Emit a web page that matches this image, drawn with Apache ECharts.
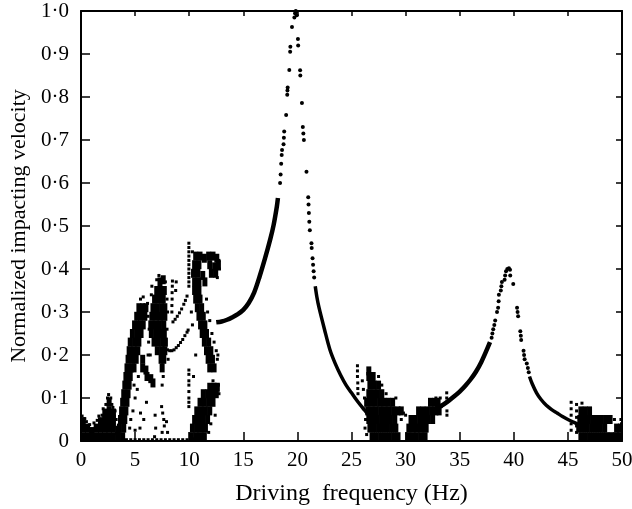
<!DOCTYPE html>
<html><head><meta charset="utf-8">
<script src="https://cdn.jsdelivr.net/npm/echarts@6/dist/echarts.min.js"></script>
<style>html,body{margin:0;padding:0;background:#fff}#c{width:632px;height:509px}</style>
</head><body><div id="c"></div>
<script>
// ---- axis ticks / labels ----
var xTicks = [0,5,10,15,20,25,30,35,40,45,50];
var yTickLabels = ['0','0·1','0·2','0·3','0·4','0·5','0·6','0·7','0·8','0·9','1·0'];
var xTitle = 'Driving  frequency (Hz)';
var yTitle = 'Normalized impacting velocity';

// ---- continuous resonance branches (Hz, normalized velocity) ----
var curve20Left = [[12.5,0.276],[13.0,0.278],[13.5,0.282],[14.0,0.288],[14.5,0.295],[15.0,0.305],[15.5,0.321],[16.0,0.345],[16.5,0.382],[17.0,0.424],[17.5,0.47],[17.8,0.502],[18.1,0.545],[18.2,0.565]];
var curve20Right = [[21.65,0.36],[21.8,0.335],[22.0,0.31],[22.5,0.26],[23.0,0.213],[23.5,0.18],[24.0,0.153],[24.5,0.13],[25.0,0.112],[25.5,0.094],[26.0,0.078],[26.5,0.063],[27.0,0.052]];
var curve40Left = [[32.8,0.076],[33.5,0.085],[34.0,0.094],[34.5,0.104],[35.0,0.115],[35.5,0.128],[36.0,0.143],[36.5,0.161],[37.0,0.184],[37.5,0.212],[37.8,0.23]];
var curve40Right = [[41.45,0.15],[41.7,0.133],[42.1,0.112],[42.5,0.097],[43.0,0.083],[43.5,0.073],[44.0,0.065],[44.5,0.057],[45.0,0.05],[45.5,0.044],[46.0,0.038]];

// ---- sparse points near the resonance peaks ----
var peak20Dots = [[18.4,0.6],[18.45,0.62],[18.5,0.645],[18.55,0.665],[18.58,0.677],[18.72,0.69],[18.75,0.705],[18.78,0.72],[18.96,0.758],[19.06,0.805],[19.08,0.815],[19.1,0.822],[19.25,0.863],[19.33,0.905],[19.35,0.917],[19.5,0.963],[19.72,0.985],[19.78,0.995],[19.85,1.0],[19.9,0.998],[19.95,0.99],
  [20.05,0.935],[20.07,0.92],[20.25,0.862],[20.27,0.85],[20.42,0.786],[20.5,0.73],[20.55,0.715],[20.6,0.7],[20.84,0.626],[21.0,0.567],[21.03,0.55],[21.06,0.53],[21.1,0.51],[21.15,0.49],[21.3,0.46],[21.32,0.449],[21.4,0.425],[21.45,0.41],[21.5,0.395],[21.55,0.38]];
var peak40Dots = [[37.95,0.24],[38.02,0.25],[38.1,0.26],[38.2,0.27],[38.28,0.28],[38.45,0.3],[38.55,0.31],[38.6,0.325],[38.62,0.34],[38.8,0.35],[38.85,0.36],[38.9,0.37],[39.15,0.375],[39.2,0.385],[39.28,0.395],[39.4,0.4],[39.55,0.402],[39.65,0.398],[39.67,0.385],
  [39.95,0.365],[40.3,0.31],[40.35,0.3],[40.4,0.29],[40.6,0.255],[40.65,0.245],[40.68,0.235],[40.9,0.21],[40.95,0.2],[41.0,0.19],[41.2,0.18],[41.3,0.17],[41.38,0.16]];

// ---- dense (chaotic) clouds ----
var lowBlob = [[0.2,0.01],[0.2,0.03],[0.2,0.045],[0.6,0.01],[0.6,0.03],[1.0,0.01],[1.0,0.022],[1.4,0.01],[1.4,0.03],[1.8,0.01],[1.8,0.03],[1.8,0.045],
  [2.2,0.01],[2.2,0.03],[2.2,0.05],[2.2,0.065],[2.6,0.01],[2.6,0.03],[2.6,0.05],[2.6,0.07],[2.6,0.09],[3.0,0.01],[3.0,0.03],[3.0,0.05],[3.0,0.065],[3.4,0.01],[3.4,0.025]];
var riseBlob = [[3.45,0.01],[3.85,0.01],[3.55,0.03],[3.95,0.03],[3.65,0.05],[4.05,0.05],[3.75,0.07],[4.15,0.07],[3.85,0.09],[4.25,0.09],[3.95,0.11],[4.35,0.11],
  [4.05,0.13],[4.45,0.13],[4.15,0.15],[4.55,0.15],[4.25,0.17],[4.65,0.17],[4.9,0.17],[5.7,0.17],[6.0,0.165],
  [4.35,0.19],[4.75,0.19],[5.1,0.19],[5.7,0.19],[4.45,0.21],[4.85,0.21],[5.25,0.21],[7.05,0.21],[7.45,0.21],[7.75,0.21],
  [4.55,0.23],[4.95,0.23],[5.35,0.23],[6.75,0.23],[7.15,0.23],[7.55,0.23],[7.8,0.23],
  [4.75,0.25],[5.15,0.25],[5.55,0.25],[6.5,0.25],[6.9,0.25],[7.3,0.25],[7.7,0.25],
  [4.95,0.27],[5.35,0.27],[5.75,0.27],[6.45,0.27],[6.85,0.27],[7.25,0.27],[7.65,0.27],
  [5.15,0.29],[5.5,0.29],[5.9,0.29],[6.55,0.29],[6.95,0.29],[7.35,0.29],[7.75,0.29],
  [5.35,0.31],[5.7,0.31],[6.0,0.31],[6.65,0.31],[7.05,0.31],[7.45,0.31],[7.75,0.31],
  [6.8,0.33],[7.2,0.33],[7.6,0.33],[7.0,0.35],[7.4,0.35],[7.7,0.35],[7.3,0.37],[7.6,0.375],
  [6.1,0.15],[6.45,0.145],[6.65,0.135],[7.4,0.19],[7.65,0.19],[7.5,0.17]];
var bandBlob = [[10.6,0.43],[11.0,0.43],[11.4,0.425],[11.8,0.43],[12.2,0.43],[12.55,0.425],[10.5,0.41],[10.9,0.41],[11.9,0.41],[12.35,0.405],[12.7,0.41],
  [10.4,0.39],[10.8,0.39],[11.25,0.385],[12.05,0.39],[12.45,0.39],[10.5,0.37],[10.9,0.37],[11.45,0.37],
  [10.5,0.35],[10.9,0.35],[10.6,0.33],[11.0,0.33],[10.75,0.31],[11.15,0.31],[10.9,0.29],[11.3,0.29],[11.05,0.27],[11.45,0.27],[11.2,0.25],[11.6,0.25],
  [11.4,0.23],[11.8,0.23],[11.6,0.21],[12.0,0.21],[11.75,0.19],[12.15,0.19],[11.9,0.17],[12.3,0.17],
  [10.2,0.01],[10.6,0.01],[11.0,0.01],[11.4,0.01],[10.3,0.03],[10.7,0.03],[11.1,0.03],[11.5,0.03],[10.5,0.05],[10.9,0.05],[11.3,0.05],[11.7,0.05],
  [10.7,0.07],[11.1,0.07],[11.5,0.07],[11.9,0.07],[11.0,0.09],[11.4,0.09],[11.8,0.09],[12.2,0.09],[11.3,0.11],[11.7,0.11],[12.1,0.11],[12.5,0.11],[11.9,0.125],[12.3,0.125],[12.6,0.125]];
var midBlob = [[26.9,0.01],[27.3,0.01],[27.7,0.01],[28.1,0.01],[28.5,0.01],[28.9,0.01],[29.3,0.01],
  [26.7,0.03],[27.1,0.03],[27.5,0.03],[27.9,0.03],[28.3,0.03],[28.7,0.03],[29.1,0.03],
  [26.6,0.05],[27.0,0.05],[27.4,0.05],[27.8,0.05],[28.2,0.05],[28.6,0.05],[29.0,0.05],
  [26.5,0.07],[26.9,0.07],[27.3,0.07],[27.7,0.07],[28.1,0.07],[28.5,0.07],[28.9,0.07],[29.3,0.07],[29.6,0.07],
  [26.4,0.09],[26.8,0.09],[27.2,0.09],[27.6,0.09],[28.0,0.09],[28.4,0.09],[28.8,0.09],
  [26.6,0.11],[27.0,0.11],[27.4,0.11],[27.8,0.11],[26.7,0.13],[27.1,0.13],[27.5,0.13],[26.6,0.15],[27.0,0.15],[26.6,0.163],
  [30.2,0.01],[30.6,0.01],[31.0,0.01],[31.4,0.01],[31.8,0.01],[30.3,0.03],[30.7,0.03],[31.1,0.03],[31.5,0.03],[31.9,0.03],
  [30.5,0.05],[30.9,0.05],[31.3,0.05],[31.7,0.05],[32.1,0.05],[32.5,0.05],[31.2,0.07],[31.6,0.07],[32.0,0.07],[32.4,0.07],[32.8,0.07],[33.1,0.07],[32.3,0.09],[32.7,0.09],[33.0,0.09]];
var highBlob = [[46.2,0.01],[46.6,0.01],[47.0,0.01],[47.4,0.01],[47.8,0.01],[48.2,0.01],[48.6,0.01],[49.0,0.01],[49.4,0.01],[49.8,0.01],
  [46.0,0.03],[46.4,0.03],[46.8,0.03],[47.2,0.03],[47.6,0.03],[48.0,0.03],[48.4,0.03],[49.5,0.03],[49.85,0.03],
  [46.1,0.05],[46.5,0.05],[46.9,0.05],[47.3,0.05],[47.7,0.05],[48.1,0.05],[48.5,0.05],[48.9,0.05],[46.2,0.07],[46.6,0.07],[47.0,0.07]];

// ---- loose points ----
var lowDots = [[0.1,0.058],[0.35,0.052],[0.5,0.045],[0.8,0.038],[1.2,0.042],[1.5,0.048],[1.65,0.058],[1.95,0.06],[2.05,0.075],[2.3,0.085],[2.45,0.1],[2.55,0.108],[2.75,0.1],[2.85,0.085],[2.95,0.078],[3.15,0.07],[3.25,0.05],[3.55,0.035],[2.4,0.07],[2.8,0.06]];
var riseDots = [[4.5,0.03],[4.6,0.05],[4.8,0.07],[5.0,0.1],[4.9,0.13],[5.2,0.12],[5.3,0.15],[5.5,0.065],[5.8,0.05],[5.45,0.03],[6.05,0.09],[5.0,0.025],[6.2,0.2],[6.25,0.23],[6.3,0.26],[6.2,0.29],[6.15,0.32],[5.75,0.335],[5.5,0.33],[6.4,0.2],[6.5,0.34],[6.55,0.36],[7.0,0.375],[7.2,0.385],[7.8,0.37],[7.95,0.33],[8.0,0.3],[7.95,0.26],[8.05,0.19],[7.6,0.15],[7.5,0.13],[7.45,0.08],[7.55,0.065],[7.65,0.05],[7.7,0.035],[7.5,0.02],[7.9,0.045],[8.0,0.02],[6.85,0.06],[6.9,0.03],[6.8,0.01],
  [8.4,0.3],[8.4,0.315],[8.42,0.33],[8.42,0.345],[8.44,0.36],[8.45,0.372],[8.75,0.35],[8.8,0.37],
  [8.5,0.277],[8.7,0.283],[8.9,0.29],[9.1,0.298],[9.3,0.307],[9.5,0.318],[9.65,0.327],[9.8,0.337],
  [8.0,0.212],[8.2,0.21],[8.4,0.21],[8.6,0.212],[8.8,0.217],[9.0,0.222],[9.2,0.229],[9.4,0.236],[9.6,0.245],[9.8,0.253],[9.9,0.258],
  [3.8,0.003],[4.2,0.003],[4.6,0.003],[5.0,0.003],[5.4,0.003],[5.8,0.003],[6.2,0.003],[6.6,0.003],[7.0,0.003],[7.4,0.003],[7.8,0.003],[8.2,0.003],[8.6,0.003],[9.0,0.003],[9.4,0.003],[9.8,0.003]];
var bandDots = [[9.97,0.46],[9.97,0.45],[9.97,0.44],[9.97,0.43],[9.97,0.42],[9.97,0.41],[9.97,0.4],[9.97,0.39],[9.97,0.38],[9.97,0.37],[9.97,0.36],
  [9.97,0.165],[9.97,0.155],[9.97,0.14],[9.97,0.13],[9.97,0.115],[9.97,0.1],[9.97,0.09],[9.97,0.08],
  [10.3,0.44],[12.75,0.42],[12.8,0.4],[12.6,0.38],[11.6,0.33],[11.7,0.3],[11.9,0.28],[12.1,0.25],[12.3,0.23],[12.5,0.21],[12.6,0.19],[12.65,0.2],[10.2,0.3],[10.3,0.27],[10.6,0.2],[10.4,0.15],[12.2,0.14],[12.7,0.13],[12.75,0.11],[12.4,0.06],[12.0,0.04],[11.8,0.02],[10.15,0.005],[10.45,0.005]];
var midDots = [[25.55,0.175],[25.55,0.163],[25.55,0.15],[25.58,0.135],[25.58,0.122],[25.6,0.11],[26.0,0.14],[26.1,0.12],[26.2,0.1],[26.1,0.075],[26.3,0.05],[26.25,0.03],[26.4,0.015],[29.8,0.065],[30.0,0.06],[29.6,0.05],[27.5,0.15],[27.8,0.13],[28.2,0.11],[29.1,0.1],
  [33.8,0.112],[33.8,0.1],[33.8,0.09],[33.82,0.07],[33.82,0.06],[33.2,0.1],[32.8,0.1],[33.3,0.08]];
var highDots = [[45.3,0.09],[45.3,0.075],[45.3,0.06],[45.3,0.04],[45.3,0.025],[45.8,0.085],[45.8,0.07],[45.8,0.055],[45.8,0.035],[45.8,0.02],[46.3,0.088],[49.3,0.05],[49.9,0.05],[49.95,0.04]];

var FONT = '"Liberation Serif","Times New Roman",serif';
var chart = echarts.init(document.getElementById('c'), null, {renderer:'canvas'});

function lineSeries(name, data, w){
  return {name:name, type:'line', data:data, showSymbol:false, symbol:'none', smooth:0.3,
    lineStyle:{color:'#000', width:w}, silent:true, z:3};
}
function scatterSeries(name, data, size, shape){
  return {name:name, type:'scatter', data:data, symbol:shape, symbolSize:size,
    itemStyle:{color:'#000', opacity:1, borderWidth:0}, silent:true, z:3};
}
var axisCommon = {type:'value', splitLine:{show:false}, axisLine:{show:true, onZero:false, lineStyle:{color:'#000', width:2}}};

chart.setOption({
  animation:false,
  backgroundColor:'#fff',
  grid:{left:81, right:10, top:11, bottom:68, containLabel:false, outerBoundsMode:'none'},
  xAxis:[
    Object.assign({}, axisCommon, {min:0, max:50, interval:5, position:'bottom',
      axisTick:{show:true, inside:true, length:9, lineStyle:{color:'#000', width:1.5}},
      axisLabel:{show:true, color:'#000', fontFamily:FONT, fontSize:21, margin:9,
        formatter:function(v){ return xTicks.indexOf(v) >= 0 ? String(v) : ''; }},
      name:xTitle, nameLocation:'middle', nameGap:41, nameTextStyle:{color:'#000', fontFamily:FONT, fontSize:24}}),
    Object.assign({}, axisCommon, {min:0, max:50, interval:5, position:'top',
      axisTick:{show:true, inside:true, length:5, lineStyle:{color:'#000', width:1.5}}, axisLabel:{show:false}})
  ],
  yAxis:[
    Object.assign({}, axisCommon, {min:0, max:1, interval:0.1, position:'left',
      axisTick:{show:true, inside:true, length:9, lineStyle:{color:'#000', width:1.5}},
      axisLabel:{show:true, color:'#000', fontFamily:FONT, fontSize:21, margin:12,
        formatter:function(v){ return yTickLabels[Math.round(v*10)]; }},
      name:yTitle, nameLocation:'middle', nameGap:50, nameRotate:90, nameTextStyle:{color:'#000', fontFamily:FONT, fontSize:22}}),
    Object.assign({}, axisCommon, {min:0, max:1, interval:0.1, position:'right',
      axisTick:{show:true, inside:true, length:6, lineStyle:{color:'#000', width:1.5}}, axisLabel:{show:false}})
  ],
  series:[
    scatterSeries('lowBlob', lowBlob, [5,9], 'rect'),
    scatterSeries('riseBlob', riseBlob, [5,9], 'rect'),
    scatterSeries('bandBlob', bandBlob, [5,9], 'rect'),
    scatterSeries('midBlob', midBlob, [5,9], 'rect'),
    scatterSeries('highBlob', highBlob, [5,9], 'rect'),
    scatterSeries('lowDots', lowDots, 3, 'rect'),
    scatterSeries('riseDots', riseDots, 3, 'rect'),
    scatterSeries('bandDots', bandDots, 3, 'rect'),
    scatterSeries('midDots', midDots, 3, 'rect'),
    scatterSeries('highDots', highDots, 3, 'rect'),
    scatterSeries('peak20Dots', peak20Dots, 4, 'circle'),
    scatterSeries('peak40Dots', peak40Dots, 4, 'circle'),
    lineSeries('curve20Left', curve20Left, 4.5),
    lineSeries('curve20Right', curve20Right, 3.5),
    lineSeries('curve40Left', curve40Left, 4.5),
    lineSeries('curve40Right', curve40Right, 3.5)
  ]
});
</script></body></html>
